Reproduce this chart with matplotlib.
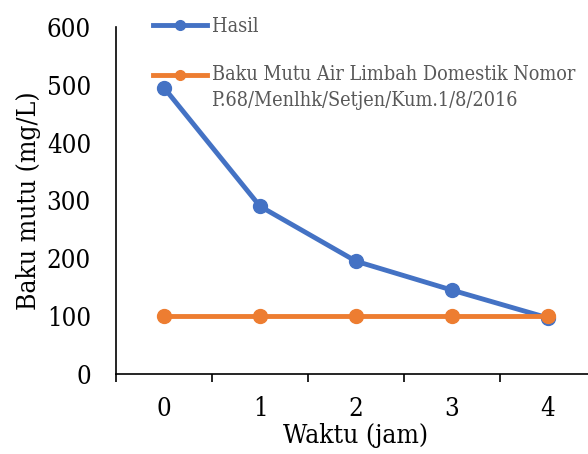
import matplotlib
matplotlib.use("Agg")
import matplotlib.pyplot as plt
from matplotlib.lines import Line2D
from matplotlib.legend_handler import HandlerLine2D
from matplotlib.transforms import Affine2D

waktu = [0, 1, 2, 3, 4]
hasil = [495, 290, 195, 145, 97]
baku_mutu = [100, 100, 100, 100, 100]

label_hasil = "Hasil"
label_baku = "Baku Mutu Air Limbah Domestik Nomor\nP.68/Menlhk/Setjen/Kum.1/8/2016"

blue = "#4472C4"
orange = "#ED7D31"


class TopHandler(HandlerLine2D):
    # put the legend line next to the first text line, like Excel does
    def __init__(self, dy=0, **kw):
        super().__init__(**kw)
        self.dy = dy

    def create_artists(self, legend, orig_handle, xdescent, ydescent,
                       width, height, fontsize, trans):
        arts = super().create_artists(legend, orig_handle, xdescent, ydescent,
                                      width, height, fontsize, trans)
        for a in arts:
            a.set_transform(Affine2D().translate(0, self.dy * fontsize) + trans)
        return arts


plt.rcParams['font.family'] = ['DejaVu Serif']
plt.rcParams['font.stretch'] = 'condensed'

fig = plt.figure(figsize=(5.88, 4.54), dpi=100)
ax = fig.add_axes([116 / 588, 80 / 454, 480 / 588, 347 / 454])

ax.plot(waktu, hasil, color=blue, lw=3.5, marker='o', ms=10,
        solid_capstyle='round')
ax.plot(waktu, baku_mutu, color=orange, lw=3.5, marker='o', ms=10,
        solid_capstyle='round')

ax.set_xlim(-0.5, 4.5)
ax.set_ylim(0, 600)
ax.set_yticks(range(0, 601, 100))
ax.set_xticks(waktu)
ax.set_xticks([x - 0.5 for x in waktu] + [4.5], minor=True)
ax.tick_params(axis='x', which='major', length=0, pad=16, labelsize=18.5)
ax.tick_params(axis='x', which='minor', length=6, width=1.2, direction='out')
ax.tick_params(axis='y', length=0, pad=18, labelsize=18.5)

for s in ['top', 'right']:
    ax.spines[s].set_visible(False)
ax.spines['left'].set_linewidth(1.2)
ax.spines['bottom'].set_linewidth(1.2)

ax.set_ylabel("Baku mutu (mg/L)", fontsize=19, labelpad=4)
ax.set_xlabel("Waktu (jam)", fontsize=19, labelpad=1)

h1 = Line2D([], [], color=blue, lw=3.5, marker='o', ms=7)
h2 = Line2D([], [], color=orange, lw=3.5, marker='o', ms=7)
leg = ax.legend([h1, h2], [label_hasil, label_baku],
                handler_map={h2: TopHandler(dy=0.65)},
                loc='upper left', bbox_to_anchor=(153 / 588, 1 - 17 / 454),
                bbox_transform=fig.transFigure, frameon=False,
                fontsize=14.2, handlelength=2.75, handletextpad=0.25,
                labelspacing=1.45, borderpad=0, borderaxespad=0)
for t in leg.get_texts():
    t.set_color("#595959")
    t.set_linespacing(1.5)

fig.savefig("out.png", dpi=100)
